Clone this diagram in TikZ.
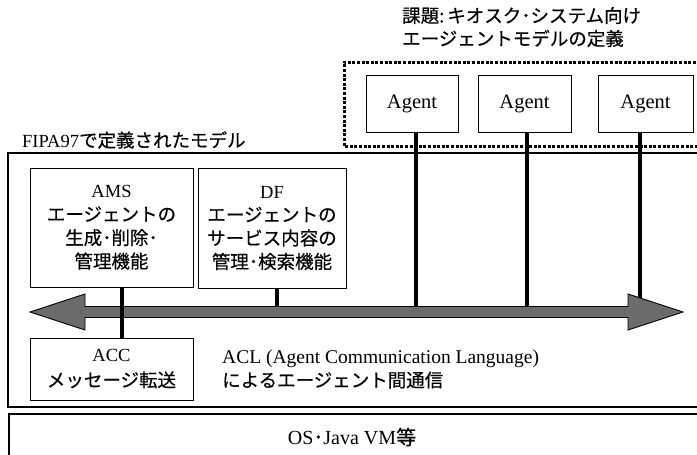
\documentclass[tikz,border=0pt]{standalone}
\usepackage{fontspec}
\setmainfont{Liberation Serif}
\newfontfamily\jpfont{Noto Sans CJK JP}[RawFeature={embolden=0.45}]
\newcommand\jt[1]{{\jpfont #1}}
\begin{document}
\begin{tikzpicture}[x=1pt,y=-1pt,
  box/.style={draw, line width=1pt, inner sep=0pt, align=center,
    font=\fontsize{18.5}{23.5}\selectfont},
  agentbox/.style={draw, line width=1pt, inner sep=0pt, align=center,
    minimum height=57pt, font=\fontsize{20.5}{24}\selectfont},
  conn/.style={line width=3.2pt},
  frame/.style={line width=1.3pt},
  dotbox/.style={line width=3pt, dash pattern=on 3pt off 1.6pt},
  fatarrow/.style={fill=black!58, draw=black, line width=0.9pt, line join=miter},
  lbl/.style={inner sep=0pt, align=left, font=\fontsize{18.5}{23}\selectfont}]
\useasboundingbox (0,0) rectangle (697,455);
\clip (0,0) rectangle (697,455);

% frames
\draw[frame] (705,153) -- (8,153) -- (8,407) -- (705,407);
\draw[frame] (705,414) -- (9,414) -- (9,465);
\draw[dotbox] (705,62) -- (344,62) -- (344,146) -- (705,146);

% texts
\node[lbl, anchor=west] (title) at (402,27)
  {\jt{課題:\hspace{3pt}キオスク･システム向け}\\\jt{エージェントモデルの定義}};
\node[lbl, anchor=west] (fipa) at (22,140) {FIPA97\jt{で定義されたモデル}};
\node[lbl, anchor=west, font=\fontsize{19.5}{24}\selectfont] (acl) at (222,369)
  {ACL (Agent Communication Language)\\{\fontsize{18.5}{24}\selectfont\jt{によるエージェント間通信}}};
\node[lbl, anchor=center, font=\fontsize{20}{24}\selectfont] (os) at (352,437) {OS\jt{･}Java VM\jt{等}};

% boxes
\node[box, minimum width=163pt, minimum height=119pt] (ams) at (111.5,227.5)
  {AMS\\\jt{エージェントの}\\\jt{生成･削除･}\\\jt{管理機能}};
\node[box, minimum width=148pt, minimum height=120pt] (df) at (272,228)
  {DF\\\jt{エージェントの}\\\jt{サービス内容の}\\\jt{管理･検索機能}};
\node[box, minimum width=163pt, minimum height=62pt, font=\fontsize{18.5}{25}\selectfont] (acc) at (111.5,369)
  {ACC\\\jt{メッセージ転送}};
\node[agentbox, minimum width=92pt] (ag1) at (412,103.5) {Agent};
\node[agentbox, minimum width=93pt] (ag2) at (524.5,103.5) {Agent};
\node[agentbox, minimum width=95pt] (ag3) at (645.5,103.5) {Agent};

% fat double arrow
\draw[fatarrow] (30,312) -- (85,294) -- (85,306.5) -- (628,306.5) -- (628,294)
  -- (683,312) -- (628,330) -- (628,317.5) -- (85,317.5) -- (85,330) -- cycle;
\coordinate (shafttop) at (0,306.5);
\coordinate (headedge) at (640,298);

% connectors
\draw[conn] ([xshift=10.5pt]ams.south) -- ([xshift=10.5pt]acc.north);
\draw[conn] ([xshift=5pt]df.south) -- ([xshift=5pt]df.south |- shafttop);
\draw[conn] ([xshift=4pt]ag1.south) -- ([xshift=4pt]ag1.south |- shafttop);
\draw[conn] ([xshift=2.5pt]ag2.south) -- ([xshift=2.5pt]ag2.south |- shafttop);
\draw[conn] ([xshift=-5.5pt]ag3.south) -- (headedge);
\end{tikzpicture}
\end{document}
